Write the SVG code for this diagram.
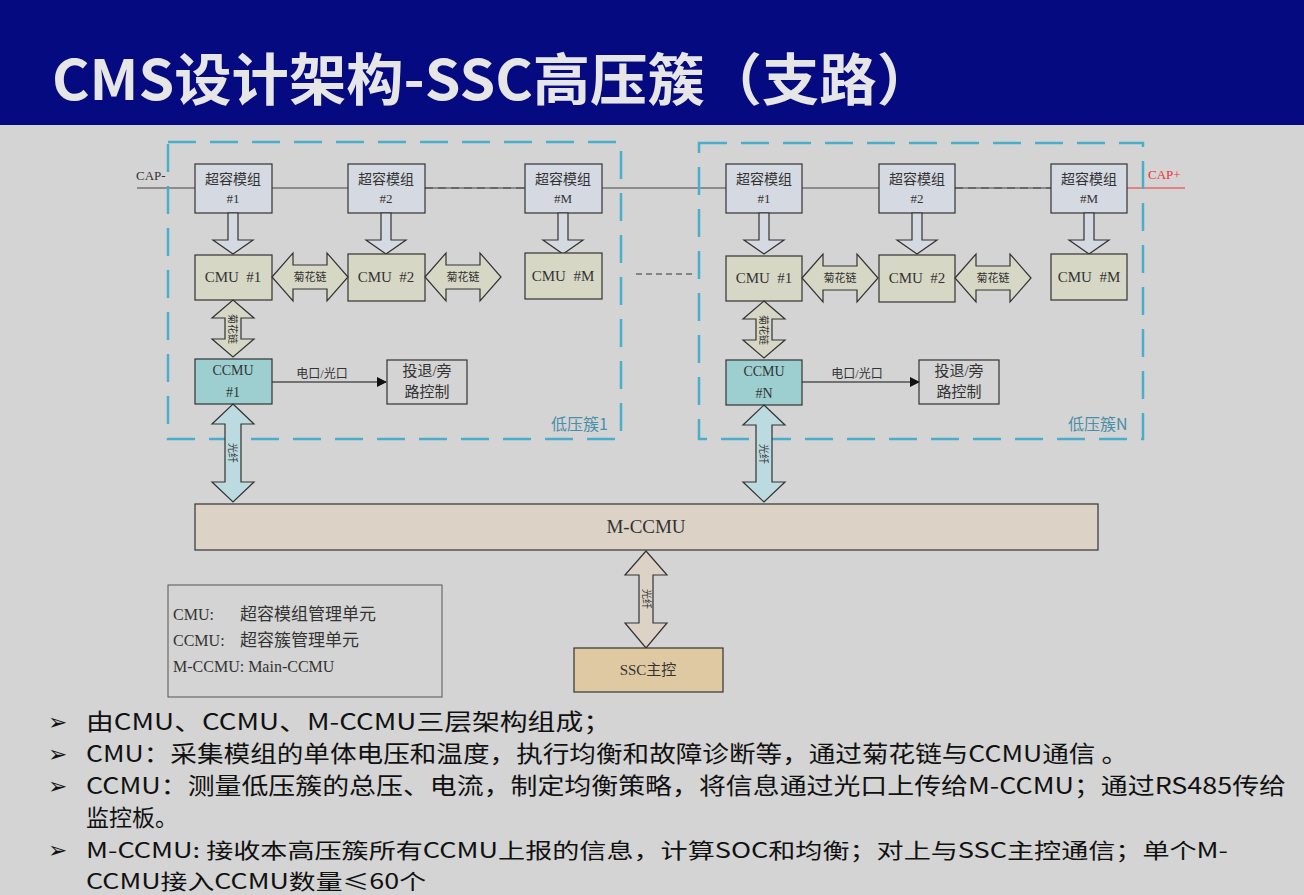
<svg xmlns="http://www.w3.org/2000/svg" width="1304" height="895" viewBox="0 0 1304 895">
<style>
.s{font-family:"Liberation Serif","Noto Sans CJK SC",serif;fill:#333}
.b{stroke:#333;stroke-width:1.2}
.mod{fill:#d5d9e2}.cmu{fill:#d6d8c5}.ccmu{fill:#9dcfd1}
.clu{fill:none;stroke:#4aaecb;stroke-width:2.5;stroke-dasharray:28,14}
.t{font-family:"Noto Sans CJK SC","Noto Sans",sans-serif;fill:#111;font-size:23px}
.u{font-family:"Noto Sans CJK SC","Noto Sans",sans-serif;fill:#111;font-size:21px}
</style>
<defs>
<marker id="ah" markerWidth="10" markerHeight="10" refX="9" refY="5" orient="auto" markerUnits="userSpaceOnUse"><path d="M0,0L10,5L0,10z" fill="#111"/></marker>
</defs>
<rect width="1304" height="895" fill="#d4d4d4"/>
<rect width="1304" height="125" fill="#050a80"/>
<text x="52" y="100" font-family="'Noto Sans CJK SC',sans-serif" font-weight="bold" font-size="56" fill="#e6e6e6" textLength="882" lengthAdjust="spacingAndGlyphs">CMS设计架构-SSC高压簇（支路）</text>

<g id="connectors" fill="none">
<path d="M137,188H195M272,188H348M425,188H525" stroke="#444"/>
<path d="M425,188H525" stroke="#444" stroke-dasharray="8,5"/>
<path d="M602,188H726M802,188H879M955,188H1051" stroke="#444"/>
<path d="M955,188H1051" stroke="#444" stroke-dasharray="8,5"/>
<path d="M1127,188H1185" stroke="#e33"/>
<path d="M636,274H695" stroke="#333" stroke-dasharray="6,4"/>
<path d="M272,382H386" stroke="#111" marker-end="url(#ah)"/>
<path d="M802,382H919" stroke="#111" marker-end="url(#ah)"/>
</g>
<text x="136" y="180" class="s" font-size="13">CAP-</text>
<text x="1148" y="179" font-family="Liberation Serif,serif" font-size="13" fill="#e33">CAP+</text>

<rect x="168" y="142" width="453" height="297" class="clu"/>
<rect x="699" y="143" width="444" height="296" class="clu"/>
<text x="551" y="430" font-family="'Noto Sans CJK SC',serif" font-size="16" fill="#4a8fa8">低压簇1</text>
<text x="1068" y="430" font-family="'Noto Sans CJK SC',serif" font-size="16" fill="#4a8fa8">低压簇N</text>

<g id="c1">
<g id="m1"><rect x="195" y="164" width="77" height="49" class="mod b"/><text x="233" y="184" class="s" font-size="14" text-anchor="middle">超容模组</text><text x="233" y="203" class="s" font-size="13" text-anchor="middle">#1</text></g>
<g id="m2"><rect x="348" y="164" width="77" height="49" class="mod b"/><text x="386" y="184" class="s" font-size="14" text-anchor="middle">超容模组</text><text x="386" y="203" class="s" font-size="13" text-anchor="middle">#2</text></g>
<g id="mM"><rect x="525" y="164" width="77" height="49" class="mod b"/><text x="563" y="184" class="s" font-size="14" text-anchor="middle">超容模组</text><text x="563" y="203" class="s" font-size="13" text-anchor="middle">#M</text></g>
<path d="M228,213h10v27h15l-20,14l-20,-14h15z" class="mod b"/>
<path d="M381,213h10v27h15l-20,14l-20,-14h15z" class="mod b"/>
<path d="M558,213h10v27h15l-20,14l-20,-14h15z" class="mod b"/>
<g id="cmu1"><rect x="195" y="255" width="77" height="45" class="cmu b"/><text x="233" y="282" class="s" font-size="15" text-anchor="middle" xml:space="preserve">CMU  #1</text></g>
<g id="cmu2"><rect x="348" y="254" width="77" height="47" class="cmu b"/><text x="386" y="282" class="s" font-size="15" text-anchor="middle" xml:space="preserve">CMU  #2</text></g>
<g id="cmuM"><rect x="525" y="253" width="77" height="46" class="cmu b"/><text x="563" y="281" class="s" font-size="15" text-anchor="middle" xml:space="preserve">CMU  #M</text></g>
<path d="M272,277l21,-24v12h34v-12l21,24l-21,24v-12h-34v12z" class="cmu b"/>
<text x="310" y="281" class="s" font-size="11" text-anchor="middle" fill="#555">菊花链</text>
<path d="M425,277l21,-24v12h34v-12l21,24l-21,24v-12h-34v12z" class="cmu b"/>
<text x="463" y="281" class="s" font-size="11" text-anchor="middle" fill="#555">菊花链</text>
<path d="M233,300l21,18h-13v21h13l-21,18l-21,-18h13v-21h-13z" class="cmu b"/>
<text transform="translate(229,329) rotate(90)" class="s" font-size="10" text-anchor="middle" fill="#555">菊花链</text>
<g id="ccmu1"><rect x="195" y="359" width="77" height="45" class="ccmu b"/><text x="233" y="375" class="s" font-size="14" text-anchor="middle">CCMU</text><text x="233" y="397" class="s" font-size="14" text-anchor="middle">#1</text></g>
<text x="322" y="378" class="s" font-size="12" text-anchor="middle" fill="#555">电口/光口</text>
<g id="ctl1"><rect x="387" y="360" width="80" height="44" fill="none" class="b"/><text x="427" y="376" class="s" font-size="15" text-anchor="middle">投退/旁</text><text x="427" y="397" class="s" font-size="15" text-anchor="middle">路控制</text></g>
<path d="M233,404l21,20h-13v58h13l-21,20l-21,-20h13v-58h-13z" fill="#bcdbe0" class="b"/>
<text transform="translate(229,453) rotate(90)" class="s" font-size="10" text-anchor="middle" fill="#555">光纤</text>
</g>

<g id="cN">
<g id="n1"><rect x="726" y="164" width="76" height="49" class="mod b"/><text x="764" y="184" class="s" font-size="14" text-anchor="middle">超容模组</text><text x="764" y="203" class="s" font-size="13" text-anchor="middle">#1</text></g>
<g id="n2"><rect x="879" y="164" width="76" height="49" class="mod b"/><text x="917" y="184" class="s" font-size="14" text-anchor="middle">超容模组</text><text x="917" y="203" class="s" font-size="13" text-anchor="middle">#2</text></g>
<g id="nM"><rect x="1051" y="164" width="76" height="49" class="mod b"/><text x="1089" y="184" class="s" font-size="14" text-anchor="middle">超容模组</text><text x="1089" y="203" class="s" font-size="13" text-anchor="middle">#M</text></g>
<path d="M759,213h10v27h15l-20,14l-20,-14h15z" class="mod b"/>
<path d="M912,213h10v27h15l-20,14l-20,-14h15z" class="mod b"/>
<path d="M1084,213h10v27h15l-20,14l-20,-14h15z" class="mod b"/>
<g id="ncmu1"><rect x="726" y="256" width="76" height="45" class="cmu b"/><text x="764" y="283" class="s" font-size="15" text-anchor="middle" xml:space="preserve">CMU  #1</text></g>
<g id="ncmu2"><rect x="879" y="255" width="76" height="47" class="cmu b"/><text x="917" y="283" class="s" font-size="15" text-anchor="middle" xml:space="preserve">CMU  #2</text></g>
<g id="ncmuM"><rect x="1051" y="254" width="76" height="46" class="cmu b"/><text x="1089" y="282" class="s" font-size="15" text-anchor="middle" xml:space="preserve">CMU  #M</text></g>
<path d="M802,278l21,-24v12h34v-12l21,24l-21,24v-12h-34v12z" class="cmu b"/>
<text x="840" y="282" class="s" font-size="11" text-anchor="middle" fill="#555">菊花链</text>
<path d="M955,278l21,-24v12h34v-12l21,24l-21,24v-12h-34v12z" class="cmu b"/>
<text x="993" y="282" class="s" font-size="11" text-anchor="middle" fill="#555">菊花链</text>
<path d="M764,301l21,18h-13v21h13l-21,18l-21,-18h13v-21h-13z" class="cmu b"/>
<text transform="translate(760,330) rotate(90)" class="s" font-size="10" text-anchor="middle" fill="#555">菊花链</text>
<g id="ccmuN"><rect x="726" y="360" width="76" height="45" class="ccmu b"/><text x="764" y="376" class="s" font-size="14" text-anchor="middle">CCMU</text><text x="764" y="398" class="s" font-size="14" text-anchor="middle">#N</text></g>
<text x="857" y="378" class="s" font-size="12" text-anchor="middle" fill="#555">电口/光口</text>
<g id="ctlN"><rect x="919" y="360" width="80" height="44" fill="none" class="b"/><text x="959" y="376" class="s" font-size="15" text-anchor="middle">投退/旁</text><text x="959" y="397" class="s" font-size="15" text-anchor="middle">路控制</text></g>
<path d="M764,405l21,20h-13v57h13l-21,20l-21,-20h13v-57h-13z" fill="#bcdbe0" class="b"/>
<text transform="translate(760,454) rotate(90)" class="s" font-size="10" text-anchor="middle" fill="#555">光纤</text>
</g>

<g id="mccmu"><rect x="195" y="504" width="903" height="46" fill="#ddd2c6" class="b"/><text x="646" y="533" class="s" font-size="19" text-anchor="middle">M-CCMU</text></g>
<path d="M646,551l21,24h-14v48h14l-21,25l-21,-25h14v-48h-14z" fill="#ddd2c6" class="b"/>
<text transform="translate(643,599) rotate(90)" class="s" font-size="10" text-anchor="middle" fill="#555">光纤</text>
<g id="ssc"><rect x="574" y="648" width="149" height="44" fill="#dfc9a2" class="b"/><text x="648" y="675" class="s" font-size="15" text-anchor="middle">SSC主控</text></g>

<g id="legend"><rect x="168" y="585" width="274" height="112" fill="none" stroke="#555"/>
<text x="173" y="620" class="s" font-size="16">CMU:</text><text x="240" y="620" class="s" font-size="17">超容模组管理单元</text>
<text x="173" y="646" class="s" font-size="16">CCMU:</text><text x="240" y="646" class="s" font-size="17">超容簇管理单元</text>
<text x="173" y="672" class="s" font-size="16">M-CCMU:  Main-CCMU</text></g>

<g id="bullets">
<text x="48" y="730" class="t">➢</text><text x="86" y="730" class="t" textLength="525" lengthAdjust="spacingAndGlyphs">由CMU、CCMU、M-CCMU三层架构组成；</text>
<text x="48" y="762" class="t">➢</text><text x="86" y="762" class="t" textLength="1042" lengthAdjust="spacingAndGlyphs">CMU：采集模组的单体电压和温度，执行均衡和故障诊断等，通过菊花链与CCMU通信 。</text>
<text x="48" y="794" class="t">➢</text><text x="86" y="794" class="t" textLength="1200" lengthAdjust="spacingAndGlyphs">CCMU：测量低压簇的总压、电流，制定均衡策略，将信息通过光口上传给M-CCMU；通过RS485传给</text>
<text x="86" y="826" class="t">监控板。</text>
<text x="48" y="858" class="t">➢</text><text x="86" y="858" class="u" textLength="1142" lengthAdjust="spacingAndGlyphs">M-CCMU: 接收本高压簇所有CCMU上报的信息，计算SOC和均衡；对上与SSC主控通信；单个M-</text>
<text x="86" y="889" class="u" textLength="340" lengthAdjust="spacingAndGlyphs">CCMU接入CCMU数量≤60个</text>
</g>
</svg>
